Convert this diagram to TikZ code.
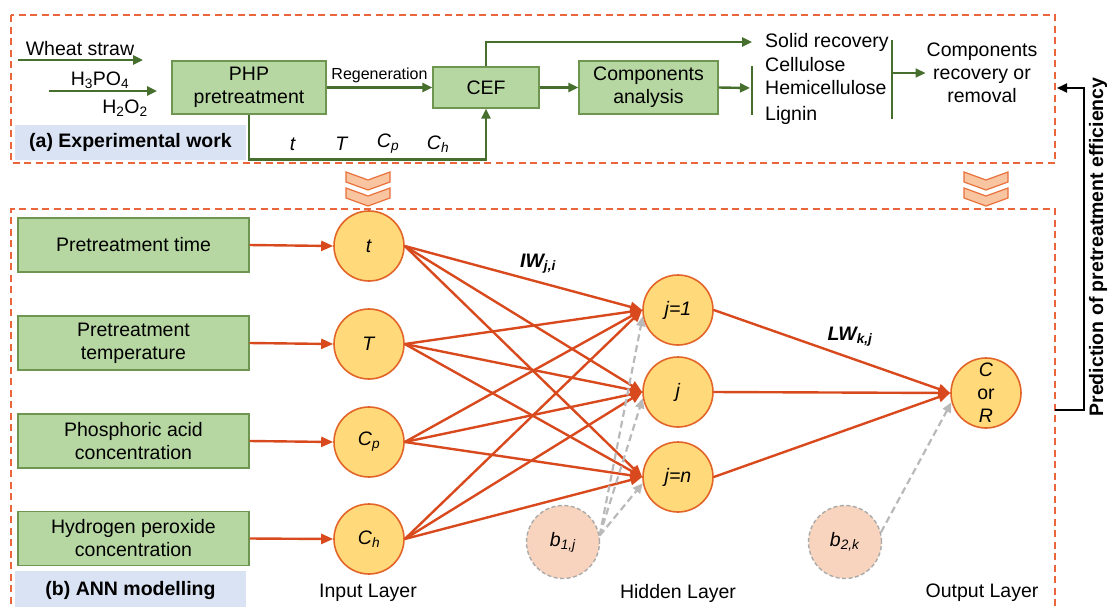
\documentclass[tikz,border=0pt]{standalone}
\usepackage{fontspec}
\setmainfont{Liberation Sans}
\usetikzlibrary{arrows.meta}
\definecolor{dashc}{RGB}{234,100,60}
\definecolor{oline}{RGB}{216,74,30}
\definecolor{cfill}{RGB}{255,217,122}
\definecolor{cdraw}{RGB}{226,100,40}
\definecolor{gfill}{RGB}{183,215,162}
\definecolor{gdraw}{RGB}{110,150,80}
\definecolor{dgreen}{RGB}{70,110,45}
\definecolor{bfill}{RGB}{218,227,243}
\definecolor{biasfill}{RGB}{248,212,190}
\definecolor{biasdraw}{RGB}{170,170,170}
\definecolor{garrow}{RGB}{185,185,185}
\definecolor{chfill}{RGB}{249,196,160}
\definecolor{chdraw}{RGB}{232,112,58}
\begin{document}
\begin{tikzpicture}[x=1pt,y=-1pt,
  font=\fontsize{19.5}{23}\selectfont,
  dashbox/.style={draw=dashc,line width=1.8pt,dash pattern=on 7pt off 4.5pt},
  gbox/.style={draw=gdraw,fill=gfill,line width=1.2pt,align=center,inner sep=0pt},
  gline/.style={draw=dgreen,line width=2.4pt},
  garr/.style={gline,-{Triangle[length=10pt,width=9pt]}},
  neuron/.style={circle,draw=cdraw,fill=cfill,line width=1.6pt,minimum size=70pt,inner sep=0pt,align=center},
  bias/.style={circle,draw=biasdraw,fill=biasfill,line width=1.4pt,dash pattern=on 4pt off 2.5pt,minimum size=73pt,inner sep=0pt},
  oarr/.style={draw=oline,line width=2.4pt,-{Triangle[length=12pt,width=10pt]}},
  barr/.style={draw=garrow,line width=2.2pt,dash pattern=on 7pt off 4pt,-{Triangle[length=10pt,width=9pt]}},
  lbl/.style={fill=bfill,minimum width=231pt,inner sep=0pt,font=\fontsize{19.5}{23}\selectfont\bfseries},
  chev/.style={fill=chfill,draw=chdraw,line width=1.2pt,line join=miter},
  txt/.style={inner sep=1pt,align=center}
]
\useasboundingbox (0,0) rectangle (1109,606);

% dashed frames
\draw[dashbox] (11,15) rectangle (1055,163);
\draw[dashbox] (11,615) -- (11,209) -- (1055,209) -- (1055,615);

% chevrons
\foreach \cx in {368,986}{
  \foreach \y in {172,188}{
    \draw[chev] (\cx-22,\y) -- (\cx,\y+8) -- (\cx+22,\y) -- (\cx+22,\y+10) -- (\cx,\y+18) -- (\cx-22,\y+10) -- cycle;
  }
}

% ---------- (a) experimental work ----------
\node[lbl,minimum height=35pt] (labA) at (130.5,142.5) {(a) Experimental work};

\node[txt,anchor=base] (ws) at (80,55) {Wheat straw};
\coordinate (ws1) at (18,60);
\coordinate (ws2) at (143,60);
\draw[garr] (ws1) -- (ws2);
\node[txt,anchor=base] (hp) at (100,85) {H\textsubscript{3}PO\textsubscript{4}};
\node[txt,anchor=base] (ho) at (125,113) {H\textsubscript{2}O\textsubscript{2}};
\coordinate (ac1) at (49,91);
\coordinate (ac2) at (157,91);
\draw[garr] (ac1) -- (ac2);

\node[gbox,minimum width=154pt,minimum height=53pt] (php) at (249,87.5) {PHP\\pretreatment};
\node[gbox,minimum width=106pt,minimum height=41pt] (cef) at (486,87.5) {CEF};
\node[gbox,minimum width=139pt,minimum height=53pt] (ana) at (648.5,87.5) {Components\\analysis};

\draw[garr] (php.east) -- node[above,inner sep=3pt,font=\fontsize{16}{18}\selectfont]{Regeneration} (cef.west);
\draw[garr] (cef.east) -- (ana.west);
\draw[garr] (php.south) -- ++(0,45) -| (cef.south);

\node[txt] (pt) at (293,144) {\textit{t}};
\node[txt] (pT) at (342,144) {\textit{T}};
\node[txt] (pCp) at (388,144) {\textit{C}\textsubscript{\textit{p}}};
\node[txt] (pCh) at (438,144) {\textit{C}\textsubscript{\textit{h}}};

\node[txt,anchor=west] (solid) at (764,42) {Solid recovery};
\node[txt,anchor=west] (cell) at (764,65) {Cellulose};
\node[txt,anchor=west] (hemi) at (764,88) {Hemicellulose};
\node[txt,anchor=west] (lign) at (764,115) {Lignin};
\coordinate (solidin) at (752,42);
\draw[garr] (cef.north) |- (solidin);

\coordinate (bar1t) at (752,66);
\coordinate (bar1b) at (752,115);
\coordinate (bar1m) at (750,88);
\draw[gline] (bar1t) -- (bar1b);
\draw[garr] (ana.east) -- (bar1m);

\coordinate (bar2t) at (892,40);
\coordinate (bar2b) at (892,119);
\coordinate (bar2m) at (892,73);
\draw[gline] (bar2t) -- (bar2b);
\node[txt] (crr) at (982,73) {Components\\recovery or\\removal};
\draw[gline,-{Triangle[length=10pt,width=9pt]},line width=2pt] (bar2m) -- (crr.west);

% feedback arrow
\coordinate (fb1) at (1055,410);
\coordinate (fb2) at (1084,88);
\coordinate (fb3) at (1057,88);
\draw[line width=2pt,-{Triangle[length=10pt,width=9pt]}] (fb1) -| (fb2) -- (fb3);
\node[rotate=90,font=\fontsize{19.5}{23}\selectfont\bfseries] (pred) at (1098,247) {Prediction of pretreatment efficiency};

% ---------- (b) ANN modelling ----------
\node[lbl,minimum height=38pt] (labB) at (130.5,590) {(b) ANN modelling};

\node[gbox,minimum width=231pt,minimum height=54pt] (g1) at (133.5,245) {Pretreatment time};
\node[gbox,minimum width=231pt,minimum height=54pt] (g2) at (133.5,343) {Pretreatment\\temperature};
\node[gbox,minimum width=231pt,minimum height=54pt] (g3) at (133.5,441) {Phosphoric acid\\concentration};
\node[gbox,minimum width=231pt,minimum height=54pt] (g4) at (133.5,538.5) {Hydrogen peroxide\\concentration};

\node[neuron] (i1) at (369,246) {\textit{t}};
\node[neuron] (i2) at (369,344) {\textit{T}};
\node[neuron] (i3) at (369,442) {\textit{C}\textsubscript{\textit{p}}};
\node[neuron] (i4) at (369,539) {\textit{C}\textsubscript{\textit{h}}};

\node[neuron] (h1) at (678,310) {\textit{j=1}};
\node[neuron] (h2) at (678,392) {\textit{j}};
\node[neuron] (h3) at (678,477) {\textit{j=n}};

\node[neuron] (out) at (986,393) {\textit{C}\\or\\\textit{R}};

\node[bias] (b1) at (563,542) {\textit{b}\textsubscript{\textit{1,j}}};
\node[bias] (b2) at (845,542) {\textit{b}\textsubscript{\textit{2,k}}};

\foreach \k in {1,...,4}{\draw[oarr] (g\k.east) -- (i\k.west);}
\foreach \k in {1,...,4}{\foreach \h in {1,2,3}{\draw[oarr] (i\k.east) -- (h\h.west);}}
\foreach \h in {1,2,3}{\draw[oarr] (h\h.east) -- (out.west);}

\foreach \h in {1,2,3}{\draw[barr] (b1.10) -- (h\h.190);}
\draw[barr] (b2.15) -- (out.195);

\node[font=\fontsize{19.5}{23}\selectfont\bfseries\itshape] (iw) at (538,264) {IW\textsubscript{\textit{j,i}}};
\node[font=\fontsize{19.5}{23}\selectfont\bfseries\itshape] (lw) at (850,337) {LW\textsubscript{\textit{k,j}}};

\node (inl) at (368,593) {Input Layer};
\node (hil) at (678,593) {Hidden Layer};
\node (oul) at (982,593) {Output Layer};
\end{tikzpicture}
\end{document}
